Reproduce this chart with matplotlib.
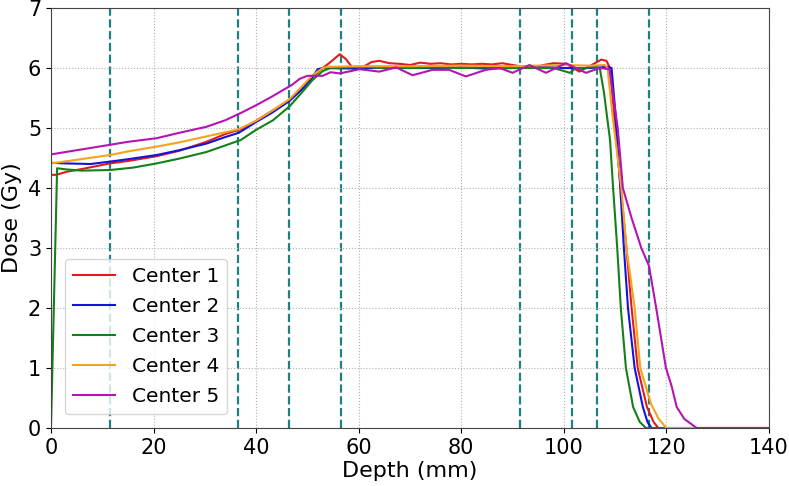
import numpy as np
import matplotlib
matplotlib.use('Agg')
import matplotlib.pyplot as plt

# depth (mm) / dose (Gy), one pair of lists per center
depth_1 = [0, 1, 3, 5, 8, 11.5, 15, 20.6, 25, 30.3, 34, 37, 40, 43, 46.5, 49, 51, 53, 54.5,
           56.3, 57.5, 59, 60.5, 62.5, 64, 66, 68, 70, 72, 74, 76, 78, 80, 82, 84, 86, 88,
           90, 91.5, 94, 96, 98, 100.5, 103, 105, 107.3, 108.3, 109, 110, 111.1, 112.2,
           113.2, 114.4, 116.2, 117.5, 118.4, 140]
dose_1 = [4.22, 4.22, 4.27, 4.30, 4.35, 4.41, 4.45, 4.53, 4.62, 4.77, 4.90, 4.98, 5.12, 5.28,
          5.47, 5.65, 5.85, 6.00, 6.10, 6.23, 6.15, 5.98, 6.00, 6.10, 6.12, 6.08, 6.07, 6.05,
          6.09, 6.07, 6.08, 6.06, 6.07, 6.06, 6.07, 6.06, 6.08, 6.05, 6.03, 6.00, 6.05, 6.08,
          6.07, 5.94, 6.03, 6.14, 6.12, 6.00, 5.00, 4.00, 3.00, 2.00, 1.00, 0.35, 0.10, 0.0, 0.0]

depth_2 = [0, 3, 7.7, 11.5, 15, 20.6, 25, 30.3, 34, 36.6, 40, 43, 46.5, 49, 51, 52, 53, 60,
           65, 70, 75, 80, 85, 90, 95, 100, 105, 108.5, 109.3, 110, 111, 111.7, 112.5, 113.8,
           115.4, 116.3, 117.1, 140]
dose_2 = [4.42, 4.41, 4.40, 4.44, 4.48, 4.55, 4.63, 4.74, 4.85, 4.92, 5.10, 5.25, 5.45, 5.65,
          5.85, 5.98, 6.00, 5.99, 6.01, 6.00, 6.00, 6.01, 5.99, 6.00, 6.02, 6.00, 6.00, 6.02,
          6.00, 5.30, 4.00, 3.00, 2.00, 1.00, 0.35, 0.10, 0.0, 0.0]

depth_3 = [0, 1.2, 3, 6, 11.5, 16, 20.6, 25, 30.3, 34, 37, 40, 43.3, 46.5, 49, 51, 53, 54.5,
           60, 65, 70, 75, 80, 85, 90, 95, 98, 100, 101.2, 102.3, 104, 106, 107, 107.8, 109,
           109.6, 110.4, 111.1, 112.1, 113.5, 114.8, 116, 140]
dose_3 = [0.0, 4.33, 4.31, 4.29, 4.30, 4.34, 4.41, 4.49, 4.60, 4.71, 4.80, 4.97, 5.13, 5.36,
          5.60, 5.80, 5.95, 6.00, 6.02, 6.00, 6.00, 6.01, 6.00, 6.01, 6.00, 6.00, 6.00, 5.95,
          5.92, 6.00, 6.00, 6.02, 6.00, 5.60, 4.80, 4.00, 3.00, 2.00, 1.00, 0.35, 0.10, 0.0, 0.0]

depth_4 = [0, 5, 11.5, 15, 20.6, 25, 30.3, 34, 36.6, 40, 43, 46.5, 49, 51, 53, 54, 60, 70, 80,
           90, 100, 105, 108, 108.5, 109.5, 111.2, 112.2, 113.8, 114.9, 117, 118.5, 120, 140]
dose_4 = [4.41, 4.47, 4.55, 4.61, 4.69, 4.76, 4.86, 4.93, 4.98, 5.12, 5.28, 5.48, 5.70, 5.88,
          6.00, 6.02, 6.03, 6.03, 6.04, 6.03, 6.05, 6.04, 6.05, 6.00, 5.20, 4.00, 3.00, 2.00,
          1.00, 0.40, 0.15, 0.0, 0.0]

depth_5 = [0, 5, 11.5, 15, 20.6, 25, 30.3, 34, 37, 40, 43, 45, 47, 48.5, 50, 53, 54.5, 56.3,
           60.2, 64, 67.3, 70.5, 74.4, 77.6, 80.9, 84.8, 87.5, 90, 93.3, 96.5, 100.4, 104.3,
           107, 108.9, 109.5, 110.5, 111.5, 113.2, 115.1, 116.6, 118, 119.9, 121, 122, 123.5,
           125.9, 140]
dose_5 = [4.56, 4.63, 4.72, 4.77, 4.83, 4.92, 5.02, 5.13, 5.25, 5.38, 5.52, 5.62, 5.72, 5.82,
          5.87, 5.87, 5.93, 5.91, 5.98, 5.94, 6.01, 5.88, 5.97, 5.97, 5.86, 5.97, 6.00, 5.92,
          6.05, 5.92, 6.08, 5.92, 6.00, 5.98, 5.60, 5.00, 4.00, 3.50, 3.00, 2.70, 2.00, 1.00,
          0.70, 0.35, 0.15, 0.0, 0.0]

labels = ['Center 1', 'Center 2', 'Center 3', 'Center 4', 'Center 5']
colors = ['#e01b1b', '#1414d8', '#14801a', '#f5a21e', '#b414b4']

# depths of the dashed reference lines
ref_depths = [11.5, 36.5, 46.5, 56.5, 91.5, 101.5, 106.5, 116.5]

fig = plt.figure(figsize=(7.89, 4.86), dpi=100)
ax = fig.add_axes([0.0646, 0.1193, 0.9101, 0.8642])

series = [(depth_1, dose_1), (depth_2, dose_2), (depth_3, dose_3),
          (depth_4, dose_4), (depth_5, dose_5)]
for (d, v), lab, c in zip(series, labels, colors):
    ax.plot(d, v, color=c, linewidth=1.5, label=lab)

for xd in ref_depths:
    ax.axvline(xd, color='#1f8080', linestyle='--', linewidth=1.6, zorder=1)

ax.set_xlim(0, 140)
ax.set_ylim(0, 7)
ax.set_xticks(np.arange(0, 141, 20))
ax.set_yticks(np.arange(0, 8, 1))
ax.tick_params(labelsize=15)
ax.set_xlabel('Depth (mm)', fontsize=16, labelpad=2)
ax.set_ylabel('Dose (Gy)', fontsize=16, labelpad=4)
ax.grid(True, linestyle=':', color='#b0b0b0', linewidth=0.8)
for s in ax.spines.values():
    s.set_color('#444444')

ax.legend(loc='lower left', fontsize=14.5, labelspacing=0.55, handlelength=2.1,
          bbox_to_anchor=(0.0, 0.0), borderaxespad=0.7)

fig.savefig('out.png', dpi=100)
